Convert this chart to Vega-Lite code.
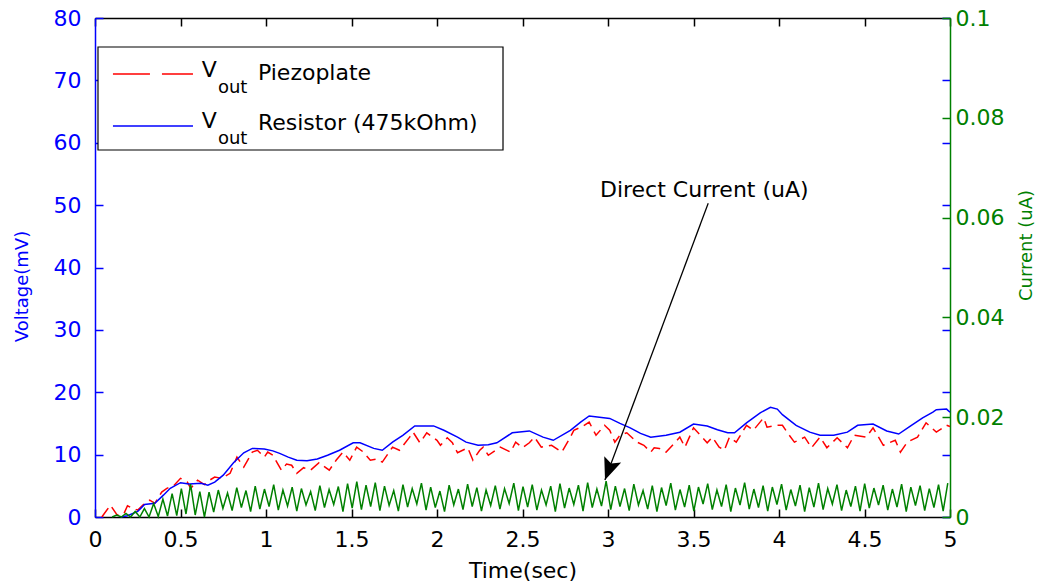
{
  "$schema": "https://vega.github.io/schema/vega-lite/v6.json",
  "width": 855,
  "height": 499,
  "autosize": {"type": "none"},
  "padding": {"left": 95, "top": 18, "right": 92, "bottom": 71},
  "background": "white",
  "config": {
    "view": {"stroke": null},
    "font": "DejaVu Sans",
    "axis": {"labelFont": "DejaVu Sans", "titleFont": "DejaVu Sans", "labelFontSize": 22, "titleFontSize": 22, "titleFontWeight": "normal", "grid": false, "labelFlush": false, "labelOverlap": false, "domainWidth": 1.5, "tickWidth": 1.5}
  },
  "datasets": {
    "resistor": [
      {"t":0.15,"v":0},{"t":0.19,"v":0.2},{"t":0.25,"v":0.9},{"t":0.29,"v":2.0},{"t":0.35,"v":2.2},{"t":0.40,"v":3.5},{"t":0.44,"v":4.6},{"t":0.50,"v":5.5},{"t":0.55,"v":5.3},{"t":0.62,"v":5.4},{"t":0.66,"v":5.1},{"t":0.70,"v":5.6},{"t":0.75,"v":6.7},{"t":0.81,"v":8.7},{"t":0.87,"v":10.3},{"t":0.92,"v":11.0},{"t":0.99,"v":10.9},{"t":1.04,"v":10.6},{"t":1.08,"v":10.2},{"t":1.13,"v":9.6},{"t":1.18,"v":9.1},{"t":1.24,"v":9.0},{"t":1.30,"v":9.3},{"t":1.36,"v":9.9},{"t":1.43,"v":10.7},{"t":1.51,"v":11.9},{"t":1.55,"v":11.9},{"t":1.63,"v":11.0},{"t":1.68,"v":10.7},{"t":1.74,"v":12.0},{"t":1.80,"v":13.1},{"t":1.87,"v":14.6},{"t":1.98,"v":14.6},{"t":2.04,"v":13.9},{"t":2.12,"v":12.8},{"t":2.17,"v":12.0},{"t":2.24,"v":11.5},{"t":2.30,"v":11.6},{"t":2.35,"v":11.9},{"t":2.44,"v":13.5},{"t":2.54,"v":13.8},{"t":2.62,"v":12.8},{"t":2.68,"v":12.3},{"t":2.78,"v":13.9},{"t":2.84,"v":15.2},{"t":2.89,"v":16.2},{"t":2.95,"v":16.0},{"t":3.01,"v":15.8},{"t":3.07,"v":15.0},{"t":3.13,"v":14.3},{"t":3.19,"v":13.4},{"t":3.25,"v":12.8},{"t":3.34,"v":13.1},{"t":3.42,"v":13.6},{"t":3.50,"v":14.9},{"t":3.58,"v":14.6},{"t":3.64,"v":14.0},{"t":3.70,"v":13.5},{"t":3.74,"v":13.5},{"t":3.81,"v":15.1},{"t":3.89,"v":16.7},{"t":3.95,"v":17.6},{"t":3.99,"v":17.3},{"t":4.02,"v":16.4},{"t":4.10,"v":14.7},{"t":4.18,"v":13.6},{"t":4.24,"v":13.1},{"t":4.32,"v":13.1},{"t":4.40,"v":13.6},{"t":4.46,"v":14.7},{"t":4.55,"v":14.9},{"t":4.63,"v":13.8},{"t":4.70,"v":13.3},{"t":4.77,"v":14.6},{"t":4.84,"v":15.9},{"t":4.90,"v":16.8},{"t":4.92,"v":17.2},{"t":4.98,"v":17.3},{"t":5.00,"v":16.8}
    ],
    "piezo": [
      {"t":0.04,"v":0},{"t":0.09,"v":1.9},{"t":0.13,"v":0.3},{"t":0.17,"v":0.6},{"t":0.19,"v":1.8},{"t":0.22,"v":1.4},{"t":0.25,"v":1.1},{"t":0.28,"v":1.9},{"t":0.32,"v":2.7},{"t":0.35,"v":2.2},{"t":0.39,"v":4.0},{"t":0.42,"v":4.6},{"t":0.46,"v":5.0},{"t":0.50,"v":6.2},{"t":0.54,"v":5.6},{"t":0.56,"v":4.6},{"t":0.60,"v":5.9},{"t":0.64,"v":5.2},{"t":0.67,"v":5.9},{"t":0.70,"v":6.4},{"t":0.74,"v":6.2},{"t":0.79,"v":7.0},{"t":0.83,"v":9.6},{"t":0.87,"v":8.0},{"t":0.92,"v":10.4},{"t":0.95,"v":10.7},{"t":0.99,"v":9.6},{"t":1.01,"v":10.4},{"t":1.04,"v":9.9},{"t":1.09,"v":7.5},{"t":1.12,"v":8.5},{"t":1.15,"v":8.3},{"t":1.18,"v":7.0},{"t":1.22,"v":7.9},{"t":1.26,"v":7.5},{"t":1.31,"v":8.7},{"t":1.37,"v":7.5},{"t":1.41,"v":9.1},{"t":1.45,"v":10.4},{"t":1.49,"v":9.1},{"t":1.53,"v":11.2},{"t":1.57,"v":10.4},{"t":1.61,"v":9.1},{"t":1.65,"v":9.3},{"t":1.68,"v":8.8},{"t":1.74,"v":11.2},{"t":1.78,"v":10.7},{"t":1.84,"v":12.8},{"t":1.86,"v":13.6},{"t":1.90,"v":11.9},{"t":1.94,"v":13.5},{"t":2.00,"v":12.3},{"t":2.02,"v":11.5},{"t":2.06,"v":12.7},{"t":2.09,"v":11.9},{"t":2.12,"v":10.3},{"t":2.18,"v":11.1},{"t":2.21,"v":9.1},{"t":2.25,"v":10.7},{"t":2.27,"v":11.2},{"t":2.30,"v":9.9},{"t":2.37,"v":11.2},{"t":2.43,"v":10.4},{"t":2.46,"v":12.0},{"t":2.50,"v":11.1},{"t":2.54,"v":11.9},{"t":2.57,"v":12.8},{"t":2.61,"v":11.2},{"t":2.67,"v":11.5},{"t":2.73,"v":10.4},{"t":2.78,"v":12.8},{"t":2.80,"v":13.9},{"t":2.85,"v":14.5},{"t":2.89,"v":15.2},{"t":2.93,"v":13.1},{"t":2.98,"v":14.7},{"t":3.01,"v":13.9},{"t":3.04,"v":12.0},{"t":3.07,"v":13.1},{"t":3.11,"v":13.5},{"t":3.17,"v":12.0},{"t":3.21,"v":11.5},{"t":3.25,"v":10.4},{"t":3.27,"v":11.1},{"t":3.30,"v":11.0},{"t":3.34,"v":10.4},{"t":3.42,"v":12.8},{"t":3.45,"v":11.2},{"t":3.50,"v":14.3},{"t":3.54,"v":13.1},{"t":3.58,"v":11.9},{"t":3.61,"v":12.8},{"t":3.65,"v":11.2},{"t":3.68,"v":10.7},{"t":3.71,"v":12.8},{"t":3.75,"v":12.0},{"t":3.81,"v":14.7},{"t":3.85,"v":13.9},{"t":3.91,"v":15.9},{"t":3.93,"v":14.4},{"t":3.99,"v":14.7},{"t":4.02,"v":14.7},{"t":4.06,"v":13.1},{"t":4.09,"v":12.0},{"t":4.15,"v":12.8},{"t":4.19,"v":11.1},{"t":4.24,"v":12.8},{"t":4.28,"v":11.1},{"t":4.34,"v":12.7},{"t":4.40,"v":11.1},{"t":4.44,"v":13.1},{"t":4.51,"v":12.8},{"t":4.55,"v":14.3},{"t":4.61,"v":11.5},{"t":4.68,"v":12.3},{"t":4.71,"v":10.4},{"t":4.75,"v":12.0},{"t":4.81,"v":12.8},{"t":4.86,"v":15.1},{"t":4.92,"v":13.6},{"t":4.98,"v":14.7},{"t":5.00,"v":14.5}
    ],
    "current": [
      {"t":0.100,"c":0.0000},{"t":0.127,"c":0.0004},{"t":0.154,"c":0.0000},{"t":0.181,"c":0.0007},{"t":0.208,"c":0.0000},{"t":0.235,"c":0.0011},{"t":0.262,"c":0.0000},{"t":0.289,"c":0.0017},{"t":0.316,"c":0.0000},{"t":0.343,"c":0.0027},{"t":0.370,"c":0.0001},{"t":0.397,"c":0.0036},{"t":0.424,"c":0.0002},{"t":0.451,"c":0.0047},{"t":0.478,"c":0.0003},{"t":0.505,"c":0.0057},{"t":0.532,"c":0.0006},{"t":0.559,"c":0.0066},{"t":0.586,"c":0.0004},{"t":0.613,"c":0.0051},{"t":0.640,"c":0.0000},
      {"t":0.667,"c":0.0050},{"t":0.694,"c":0.0010},{"t":0.721,"c":0.0054},{"t":0.748,"c":0.0017},{"t":0.775,"c":0.0048},{"t":0.802,"c":0.0013},{"t":0.829,"c":0.0059},{"t":0.856,"c":0.0019},{"t":0.883,"c":0.0053},{"t":0.910,"c":0.0011},{"t":0.937,"c":0.0062},{"t":0.964,"c":0.0016},{"t":0.991,"c":0.0056},{"t":1.018,"c":0.0021},{"t":1.045,"c":0.0065},{"t":1.072,"c":0.0014},{"t":1.099,"c":0.0054},{"t":1.126,"c":0.0022},{"t":1.153,"c":0.0060},{"t":1.180,"c":0.0012},{"t":1.207,"c":0.0057},{"t":1.234,"c":0.0024},{"t":1.261,"c":0.0051},{"t":1.288,"c":0.0013},{"t":1.315,"c":0.0063},{"t":1.342,"c":0.0019},{"t":1.369,"c":0.0055},{"t":1.396,"c":0.0025},{"t":1.423,"c":0.0061},{"t":1.450,"c":0.0011},{"t":1.477,"c":0.0067},{"t":1.504,"c":0.0018},{"t":1.531,"c":0.0071},{"t":1.558,"c":0.0015},{"t":1.585,"c":0.0064},{"t":1.612,"c":0.0021},{"t":1.639,"c":0.0069},{"t":1.666,"c":0.0013},{"t":1.693,"c":0.0062},{"t":1.720,"c":0.0023},{"t":1.747,"c":0.0053},{"t":1.774,"c":0.0012},{"t":1.801,"c":0.0065},{"t":1.828,"c":0.0020},{"t":1.855,"c":0.0057},{"t":1.882,"c":0.0026},{"t":1.909,"c":0.0068},{"t":1.936,"c":0.0014},{"t":1.963,"c":0.0060},{"t":1.990,"c":0.0019},{"t":2.017,"c":0.0052},{"t":2.044,"c":0.0011},{"t":2.071,"c":0.0064},{"t":2.098,"c":0.0024},{"t":2.125,"c":0.0056},{"t":2.152,"c":0.0015},{"t":2.179,"c":0.0066},{"t":2.206,"c":0.0021},{"t":2.233,"c":0.0059},{"t":2.260,"c":0.0012},{"t":2.287,"c":0.0054},{"t":2.314,"c":0.0023},{"t":2.341,"c":0.0063},{"t":2.368,"c":0.0016},{"t":2.395,"c":0.0057},{"t":2.422,"c":0.0027},{"t":2.449,"c":0.0068},{"t":2.476,"c":0.0013},{"t":2.503,"c":0.0061},{"t":2.530,"c":0.0020},{"t":2.557,"c":0.0065},{"t":2.584,"c":0.0014},{"t":2.611,"c":0.0054},{"t":2.638,"c":0.0024},{"t":2.665,"c":0.0062},{"t":2.692,"c":0.0011},{"t":2.719,"c":0.0067},{"t":2.746,"c":0.0018},{"t":2.773,"c":0.0058},{"t":2.800,"c":0.0025},{"t":2.827,"c":0.0064},{"t":2.854,"c":0.0012},{"t":2.881,"c":0.0069},{"t":2.908,"c":0.0019},{"t":2.935,"c":0.0056},{"t":2.962,"c":0.0022},{"t":2.989,"c":0.0072},{"t":3.016,"c":0.0015},{"t":3.043,"c":0.0062},{"t":3.070,"c":0.0021},{"t":3.097,"c":0.0057},{"t":3.124,"c":0.0013},{"t":3.151,"c":0.0066},{"t":3.178,"c":0.0024},{"t":3.205,"c":0.0053},{"t":3.232,"c":0.0016},{"t":3.259,"c":0.0063},{"t":3.286,"c":0.0011},{"t":3.313,"c":0.0059},{"t":3.340,"c":0.0023},{"t":3.367,"c":0.0068},{"t":3.394,"c":0.0014},{"t":3.421,"c":0.0055},{"t":3.448,"c":0.0020},{"t":3.475,"c":0.0064},{"t":3.502,"c":0.0012},{"t":3.529,"c":0.0060},{"t":3.556,"c":0.0026},{"t":3.583,"c":0.0067},{"t":3.610,"c":0.0015},{"t":3.637,"c":0.0054},{"t":3.664,"c":0.0021},{"t":3.691,"c":0.0065},{"t":3.718,"c":0.0011},{"t":3.745,"c":0.0058},{"t":3.772,"c":0.0024},{"t":3.799,"c":0.0069},{"t":3.826,"c":0.0016},{"t":3.853,"c":0.0056},{"t":3.880,"c":0.0019},{"t":3.907,"c":0.0063},{"t":3.934,"c":0.0012},{"t":3.961,"c":0.0060},{"t":3.988,"c":0.0025},{"t":4.015,"c":0.0066},{"t":4.042,"c":0.0014},{"t":4.069,"c":0.0055},{"t":4.096,"c":0.0022},{"t":4.123,"c":0.0064},{"t":4.150,"c":0.0011},{"t":4.177,"c":0.0059},{"t":4.204,"c":0.0020},{"t":4.231,"c":0.0068},{"t":4.258,"c":0.0015},{"t":4.285,"c":0.0057},{"t":4.312,"c":0.0026},{"t":4.339,"c":0.0065},{"t":4.366,"c":0.0013},{"t":4.393,"c":0.0054},{"t":4.420,"c":0.0021},{"t":4.447,"c":0.0062},{"t":4.474,"c":0.0012},{"t":4.501,"c":0.0067},{"t":4.528,"c":0.0018},{"t":4.555,"c":0.0058},{"t":4.582,"c":0.0024},{"t":4.609,"c":0.0064},{"t":4.636,"c":0.0014},{"t":4.663,"c":0.0056},{"t":4.690,"c":0.0020},{"t":4.717,"c":0.0066},{"t":4.744,"c":0.0011},{"t":4.771,"c":0.0060},{"t":4.798,"c":0.0023},{"t":4.825,"c":0.0063},{"t":4.852,"c":0.0013},{"t":4.879,"c":0.0057},{"t":4.906,"c":0.0019},{"t":4.933,"c":0.0065},{"t":4.960,"c":0.0012},{"t":4.987,"c":0.0068}
    ],
    "box": [{"t":0.0175,"t2":2.386,"v":75.35,"v2":58.84}],
    "sampleRed": [{"t":0.105,"t2":0.573,"v":71.02}],
    "sampleBlue": [{"t":0.105,"t2":0.573,"v":62.68}],
    "texts": [
      {"t":0.624,"v":70.49,"label":"V"},
      {"t":0.953,"v":70.06,"label":"Piezoplate"},
      {"t":0.624,"v":62.41,"label":"V"},
      {"t":0.953,"v":62.04,"label":"Resistor (475kOhm)"},
      {"t":2.953,"v":51.35,"label":"Direct Current (uA)"}
    ],
    "subs": [
      {"t":0.719,"v":67.93,"label":"out"},
      {"t":0.719,"v":59.75,"label":"out"}
    ],
    "arrow": [{"t":3.586,"v":50.3,"t2":2.982,"v2":5.93}],
    "head": [{"t":3.005,"v":7.58}]
  },
  "layer": [
    {
      "layer": [
        {
          "data": {"name": "piezo"},
          "mark": {"type": "line", "color": "#ff0000", "strokeWidth": 1.5, "strokeDash": [11, 6]},
          "encoding": {
            "x": {"field": "t", "type": "quantitative", "scale": {"domain": [0, 5], "nice": false, "zero": false},
                  "axis": {"orient": "top", "labels": false, "title": null, "values": [0,0.5,1,1.5,2,2.5,3,3.5,4,4.5,5], "tickSize": -8, "tickColor": "#000000", "domainColor": "#000000"}},
            "y": {"field": "v", "type": "quantitative", "scale": {"domain": [0, 80], "nice": false, "zero": false},
                  "axis": {"orient": "right", "labels": false, "title": null, "domain": false, "values": [0,10,20,30,40,50,60,70,80], "tickSize": -8, "tickColor": "#0000ff"}}
          }
        },
        {
          "data": {"name": "resistor"},
          "mark": {"type": "line", "color": "#0000ff", "strokeWidth": 1.5},
          "encoding": {
            "x": {"field": "t", "type": "quantitative", "scale": {"domain": [0, 5], "nice": false, "zero": false},
                  "axis": {"orient": "bottom", "title": "Time(sec)", "values": [0,0.5,1,1.5,2,2.5,3,3.5,4,4.5,5], "format": "~g", "tickSize": -8, "labelPadding": 20, "titlePadding": 10, "tickColor": "#000000", "domainColor": "#000000", "labelColor": "#000000", "titleColor": "#000000"}},
            "y": {"field": "v", "type": "quantitative", "scale": {"domain": [0, 80], "nice": false, "zero": false},
                  "axis": {"orient": "left", "title": "Voltage(mV)", "titleFontSize": 18, "titleY": 268, "values": [0,10,20,30,40,50,60,70,80], "format": "d", "tickSize": -8, "labelPadding": 22, "titlePadding": 22, "tickColor": "#0000ff", "domainColor": "#0000ff", "labelColor": "#0000ff", "titleColor": "#0000ff"}}
          }
        },
        {
          "data": {"name": "arrow"},
          "mark": {"type": "rule", "color": "#000000", "strokeWidth": 1.3},
          "encoding": {
            "x": {"field": "t", "type": "quantitative", "scale": {"domain": [0, 5], "nice": false, "zero": false}, "axis": null},
            "y": {"field": "v", "type": "quantitative", "scale": {"domain": [0, 80], "nice": false, "zero": false}, "axis": null},
            "x2": {"field": "t2"},
            "y2": {"field": "v2"}
          }
        },
        {
          "data": {"name": "head"},
          "mark": {"type": "point", "shape": "M0,-1L0.82,1L0,0.6L-0.82,1Z", "size": 484, "angle": 200.5, "filled": true, "color": "#000000", "opacity": 1},
          "encoding": {
            "x": {"field": "t", "type": "quantitative", "scale": {"domain": [0, 5], "nice": false, "zero": false}, "axis": null},
            "y": {"field": "v", "type": "quantitative", "scale": {"domain": [0, 80], "nice": false, "zero": false}, "axis": null}
          }
        },
        {
          "data": {"name": "box"},
          "mark": {"type": "rect", "fill": "#ffffff", "stroke": "#000000", "strokeWidth": 1.2},
          "encoding": {
            "x": {"field": "t", "type": "quantitative", "scale": {"domain": [0, 5], "nice": false, "zero": false}, "axis": null},
            "x2": {"field": "t2"},
            "y": {"field": "v", "type": "quantitative", "scale": {"domain": [0, 80], "nice": false, "zero": false}, "axis": null},
            "y2": {"field": "v2"}
          }
        },
        {
          "data": {"name": "sampleRed"},
          "mark": {"type": "rule", "color": "#ff0000", "strokeWidth": 1.5, "strokeDash": [37, 12]},
          "encoding": {
            "x": {"field": "t", "type": "quantitative", "scale": {"domain": [0, 5], "nice": false, "zero": false}, "axis": null},
            "x2": {"field": "t2"},
            "y": {"field": "v", "type": "quantitative", "scale": {"domain": [0, 80], "nice": false, "zero": false}, "axis": null}
          }
        },
        {
          "data": {"name": "sampleBlue"},
          "mark": {"type": "rule", "color": "#0000ff", "strokeWidth": 1.5},
          "encoding": {
            "x": {"field": "t", "type": "quantitative", "scale": {"domain": [0, 5], "nice": false, "zero": false}, "axis": null},
            "x2": {"field": "t2"},
            "y": {"field": "v", "type": "quantitative", "scale": {"domain": [0, 80], "nice": false, "zero": false}, "axis": null}
          }
        },
        {
          "data": {"name": "texts"},
          "mark": {"type": "text", "align": "left", "baseline": "alphabetic", "font": "DejaVu Sans", "fontSize": 22, "color": "#000000"},
          "encoding": {
            "x": {"field": "t", "type": "quantitative", "scale": {"domain": [0, 5], "nice": false, "zero": false}, "axis": null},
            "y": {"field": "v", "type": "quantitative", "scale": {"domain": [0, 80], "nice": false, "zero": false}, "axis": null},
            "text": {"field": "label"}
          }
        },
        {
          "data": {"name": "subs"},
          "mark": {"type": "text", "align": "left", "baseline": "alphabetic", "font": "DejaVu Sans", "fontSize": 18, "color": "#000000"},
          "encoding": {
            "x": {"field": "t", "type": "quantitative", "scale": {"domain": [0, 5], "nice": false, "zero": false}, "axis": null},
            "y": {"field": "v", "type": "quantitative", "scale": {"domain": [0, 80], "nice": false, "zero": false}, "axis": null},
            "text": {"field": "label"}
          }
        }
      ],
      "resolve": {"axis": {"x": "independent", "y": "independent"}}
    },
    {
      "data": {"name": "current"},
      "mark": {"type": "line", "color": "#008000", "strokeWidth": 1.5},
      "encoding": {
        "x": {"field": "t", "type": "quantitative", "scale": {"domain": [0, 5], "nice": false, "zero": false}, "axis": null},
        "y": {"field": "c", "type": "quantitative", "scale": {"domain": [0, 0.1], "nice": false, "zero": false},
              "axis": {"orient": "right", "title": "Current (uA)", "titleAngle": 270, "titleFontSize": 18, "titleY": 227, "values": [0,0.02,0.04,0.06,0.08,0.1], "format": "~g", "tickSize": -8, "labelPadding": 13, "titlePadding": 32, "tickColor": "#008000", "domainColor": "#008000", "labelColor": "#008000", "titleColor": "#008000"}}
      }
    }
  ],
  "resolve": {"scale": {"y": "independent"}, "axis": {"x": "independent", "y": "independent"}}
}
